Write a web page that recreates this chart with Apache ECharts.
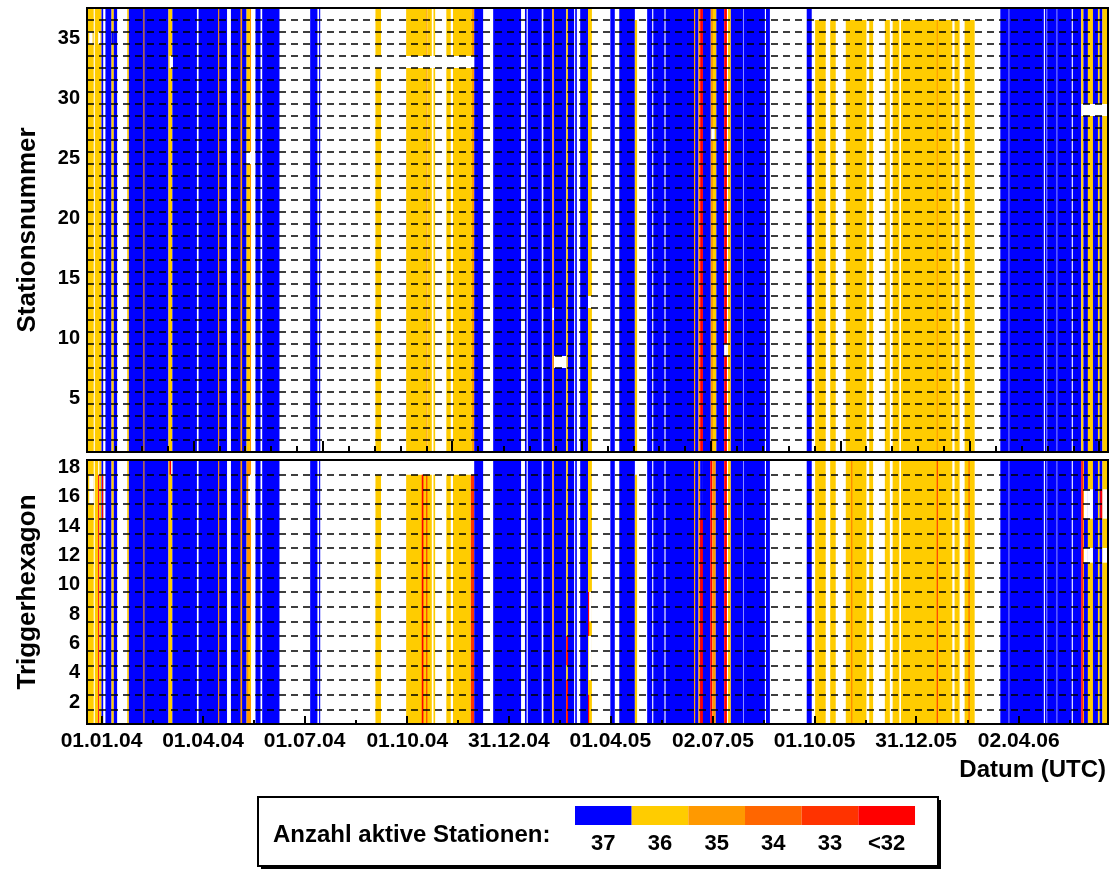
<!DOCTYPE html>
<html>
<head>
<meta charset="utf-8">
<script src="https://cdn.jsdelivr.net/npm/echarts@6/dist/echarts.min.js"></script>
<style>
  html, body { margin: 0; padding: 0; background: #fff; }
  #chart { width: 1110px; height: 870px; }
</style>
</head>
<body>
<div id="chart"></div>
<script>
// Zeitachse: Tage seit 01.01.04
const X_MIN = -13;
const X_MAX = 902;

// Beschriftung der Zeitachse
const dateLabels = ['01.01.04', '01.04.04', '01.07.04', '01.10.04', '31.12.04',
  '01.04.05', '02.07.05', '01.10.05', '31.12.05', '02.04.06'];

const stationTicks = [5, 10, 15, 20, 25, 30, 35];
const hexTicks = [2, 4, 6, 8, 10, 12, 14, 16, 18];

// Legende: Anzahl aktive Stationen
const levels = [37, 36, 35, 34, 33, 32];
const levelNames = ['37', '36', '35', '34', '33', '<32'];
const levelColors = ['#0000ff', '#ffcc00', '#ff9900', '#ff6600', '#ff3300', '#ff0000'];
const noDataColor = '#ffffff';

// [von, bis, Stufe] ganze Spalte, oder [von, bis, Stufe, ersteZeile, letzteZeile]
// Stufe 0 = keine Daten
const stationSpans = [
  [-13, -7, 36], [-6, 0, 36], [0, 1.5, 37], [3.5, 9, 37], [9, 11, 36], [11, 14, 37],
  [23, 24.5, 36], [24.5, 60, 37], [37.5, 38.5, 35],
  [60, 63.5, 36], [63.5, 85.5, 37],
  [87, 112.5, 37], [104.5, 105.5, 35], [116, 130, 37], [124.5, 126, 35],
  [130, 133, 36], [133, 134, 35], [138, 142.5, 37], [144, 159.5, 37],
  [187, 193.5, 37], [195, 196, 37],
  [245.5, 250.5, 36], [273, 291, 36], [291, 292, 35], [292, 296, 36], [297.5, 299, 36],
  [309, 313, 36], [315, 332, 36], [332, 334, 35], [334, 342, 37],
  [351, 376, 37], [379.5, 381, 37], [382, 394.5, 37],
  [396, 404, 37], [404, 405.5, 35], [405.5, 416.5, 37], [416.5, 418, 36], [418, 423.5, 37],
  [424.5, 426, 37], [429, 436, 37], [436, 439.5, 36],
  [456, 460, 37], [464, 478, 37], [478, 480, 36, 1, 36],
  [489, 493.5, 37], [494.5, 504.5, 37], [505.5, 531, 37], [531, 532, 35],
  [532, 535, 37], [535, 536.5, 35], [536.5, 539, 32], [539, 546, 37], [546, 548, 35], [548, 551, 36],
  [551, 558, 37], [558, 560.5, 32], [561.5, 564, 36], [564, 594.5, 37], [575, 575.5, 0],
  [595.5, 599, 37], [632, 636.5, 37],
  [639.5, 649, 36, 1, 36], [653, 658, 36, 1, 36], [667, 685.5, 36, 1, 36], [688, 691.5, 36, 1, 36],
  [702, 706.5, 36, 1, 36], [709, 715, 36, 1, 36], [716.5, 762.5, 36, 1, 36], [748.5, 749.5, 35, 1, 36],
  [764.5, 769, 36, 1, 36], [773.5, 782.5, 36, 1, 36],
  [805.5, 844.5, 37], [813, 813.5, 0], [845.5, 869.5, 37], [847, 847.5, 0], [856, 856.5, 0],
  [870.5, 878, 37], [878, 880, 36], [880, 884, 37], [884, 888.5, 36],
  [888.5, 893, 37], [893, 894.5, 36], [894.5, 897, 37], [897, 902, 36],
  // Lücken
  [-11, -8, 0, 35, 35], [-3, -1, 0, 35, 35], [9, 11, 37, 35, 35],
  [61, 64, 0, 33, 33], [130, 134, 0, 25, 25], [245, 334, 0, 33, 33],
  [404, 405.5, 0, 12, 12], [405.5, 416.5, 0, 8, 8], [436, 439.5, 0, 13, 13],
  [546.5, 549.5, 0, 27, 27], [558, 560.5, 0, 9, 9], [878, 902, 0, 29, 29]
];

const hexSpans = [
  [-13, -7, 36], [-6, -3, 36], [-3, -2, 32, 1, 17], [-2, 0, 36], [0, 1.5, 37], [3.5, 9, 37],
  [9, 11, 36], [11, 14, 37],
  [23, 24.5, 36], [24.5, 60, 37], [37.5, 38.5, 35],
  [60, 63.5, 36], [63.5, 85.5, 37],
  [87, 112.5, 37], [104.5, 105.5, 35], [116, 130, 37], [124.5, 126, 35],
  [130, 134, 35], [138, 142.5, 37], [144, 159.5, 37], [187, 193.5, 37], [195, 196, 37],
  [245.5, 250.5, 36, 1, 17], [273, 296, 36, 1, 17], [287, 288.5, 32, 1, 17], [291, 292, 33, 1, 17],
  [297.5, 299, 36, 1, 17], [309, 313, 36, 1, 17], [315, 331, 36, 1, 17], [331, 334, 33, 1, 17],
  [334, 342, 37], [351, 376, 37],
  [379.5, 381, 37], [382, 394.5, 37], [396, 404, 37], [404, 405.5, 35],
  [405.5, 416.5, 37], [416.5, 418, 36], [418, 423.5, 37], [424.5, 426, 37], [429, 436, 37], [436, 439.5, 36],
  [456, 460, 37], [464, 478, 37], [478, 480, 36, 1, 17],
  [489, 493.5, 37], [494.5, 504.5, 37], [505.5, 531, 37], [531, 532, 35], [532, 535, 37], [535, 536.5, 35],
  [536.5, 539, 37], [536.5, 539, 32, 1, 14], [539, 545.5, 37], [545.5, 547.5, 32], [547.5, 550.5, 35],
  [550.5, 558, 37], [558, 560.5, 32], [561.5, 564, 36], [564, 594.5, 37], [575, 575.5, 0],
  [595.5, 599, 37], [632, 636.5, 37],
  [639.5, 649, 36], [653, 658, 36], [667, 685.5, 36], [672, 672.8, 34], [688, 691.5, 36],
  [702, 706.5, 36], [709, 715, 36], [716.5, 762.5, 36], [748.5, 749.5, 33], [764.5, 769, 36],
  [773.5, 782.5, 36], [777, 778, 34],
  [805.5, 844.5, 37], [813, 813.5, 0], [845.5, 869.5, 37], [847, 847.5, 0], [856, 856.5, 0],
  [870.5, 878, 37], [878, 879.5, 32], [879.5, 880.5, 35], [880.5, 884, 37],
  [884, 888.5, 36], [888.5, 893, 37], [893, 894.5, 36], [894.5, 897, 37], [897, 902, 36],
  // Lücken und Einzelzellen
  [-11, -7, 0, 16, 17], [0.5, 1.5, 32, 15, 17], [61, 62.5, 32, 18, 18], [62.5, 63.5, 0, 18, 18],
  [131.5, 134, 0, 15, 17], [131.5, 134, 36, 3, 7], [416.5, 418, 32, 5, 6], [416.5, 418, 32, 1, 3],
  [436.5, 439.5, 0, 8, 9], [436.5, 439.5, 0, 4, 6], [436, 437, 32, 7, 9], [436, 437, 32, 1, 2],
  [880.5, 884, 0, 15, 16], [884, 888.5, 0, 15, 16], [895, 897, 32, 15, 16], [897, 902, 0, 15, 16],
  [880.5, 884, 0, 12, 12], [884, 888.5, 0, 12, 12], [897, 902, 0, 12, 12]
];

const FONT = '"Liberation Sans", Arial, sans-serif';

function dayOf(label) {
  const p = label.split('.').map(Number);
  return (Date.UTC(2000 + p[2], p[1] - 1, p[0]) - Date.UTC(2004, 0, 1)) / 86400000;
}
const dateDays = dateLabels.map(dayOf);

// Zwischenstriche unten: Mitte zwischen den Hauptstrichen
const hexMinor = [];
for (let i = 0; i < dateDays.length; i++) {
  const next = i + 1 < dateDays.length ? dateDays[i + 1] : dateDays[i] + 91;
  hexMinor.push((dateDays[i] + next) / 2);
}
// Striche oben (eigene Teilung des oberen Pads)
const topMajor = [], topMinor = [];
for (let t = 82.4; t < X_MAX; t += 115.95) topMajor.push(t);
for (let t = 82.4 - 3 * 23.19; t < X_MAX; t += 23.19) if (t > X_MIN) topMinor.push(t);

function colorOf(level) {
  const i = levels.indexOf(level);
  return i < 0 ? noDataColor : levelColors[i];
}

function expand(spans, rows) {
  return spans.map(s => s.length === 3 ? [s[0], s[1], s[2], 1, rows] : s);
}

function renderSpan(params, api) {
  const a = api.coord([api.value(0), api.value(4) + 0.5]);
  const b = api.coord([api.value(1), api.value(3) - 0.5]);
  const cs = params.coordSys;
  const shape = echarts.graphic.clipRectByRect(
    { x: a[0], y: a[1], width: b[0] - a[0], height: b[1] - a[1] },
    { x: cs.x, y: cs.y, width: cs.width, height: cs.height });
  if (!shape) return;
  return { type: 'rect', shape: shape, style: { fill: colorOf(api.value(2)) } };
}

function timeAxis(grid, ticks, len, labels) {
  return {
    gridIndex: grid, type: 'value', min: X_MIN, max: X_MAX, position: 'bottom', z: 5,
    axisLine: { show: false },
    splitLine: { show: false },
    axisTick: { show: true, inside: true, length: len, customValues: ticks,
      lineStyle: { color: '#000', width: 2 } },
    axisLabel: labels ? {
      customValues: dateDays,
      formatter: v => dateLabels[dateDays.indexOf(v)] || '',
      color: '#000', fontSize: 21, fontWeight: 'bold', fontFamily: FONT, margin: 7
    } : { show: false }
  };
}

function rowAxis(grid, max, ticks, name) {
  return {
    gridIndex: grid, type: 'value', min: 0.5, max: max, interval: 1, z: 5,
    axisLine: { show: false },
    axisTick: { show: false },
    axisLabel: { customValues: ticks, color: '#000', fontSize: 20, fontWeight: 'bold',
      fontFamily: FONT, margin: 7 },
    splitLine: { show: true, lineStyle: { color: '#000', type: [7, 5], width: 1.5 } },
    name: name, nameLocation: 'middle', nameGap: 46, nameRotate: 90, nameMoveOverlap: false,
    nameTextStyle: { color: '#000', fontSize: 26, fontWeight: 'bold', fontFamily: FONT }
  };
}

const bottomLabelAxis = timeAxis(1, dateDays, 8, true);
bottomLabelAxis.name = 'Datum (UTC)';
bottomLabelAxis.nameLocation = 'end';
bottomLabelAxis.nameGap = -2;
bottomLabelAxis.nameMoveOverlap = false;
bottomLabelAxis.nameTextStyle = { color: '#000', fontSize: 24, fontWeight: 'bold', fontFamily: FONT,
  align: 'right', verticalAlign: 'top', padding: [34, 0, 0, 0] };

// Legende als Grafik
const SW_X = 575, SW_W = 56.67;
const legendGraphics = [
  { type: 'rect', shape: { x: 261, y: 800, width: 680, height: 69 }, style: { fill: '#000' } },
  { type: 'rect', shape: { x: 258, y: 797, width: 680, height: 69 },
    style: { fill: '#fff', stroke: '#000', lineWidth: 2 } },
  { type: 'text', x: 273, y: 835,
    style: { text: 'Anzahl aktive Stationen:', fill: '#000', font: 'bold 24px ' + FONT,
      align: 'left', verticalAlign: 'middle', textAlign: 'left', textVerticalAlign: 'middle' } }
];
levels.forEach((lv, i) => {
  legendGraphics.push({ type: 'rect', shape: { x: SW_X + i * SW_W, y: 806, width: SW_W, height: 19 },
    style: { fill: levelColors[i] } });
  legendGraphics.push({ type: 'text', x: SW_X + (i + 0.5) * SW_W, y: 844,
    style: { text: levelNames[i], fill: '#000', font: 'bold 22px ' + FONT,
      align: 'center', verticalAlign: 'middle', textAlign: 'center', textVerticalAlign: 'middle' } });
});

const chart = echarts.init(document.getElementById('chart'));
chart.setOption({
  animation: false,
  backgroundColor: '#fff',
  grid: [
    { left: 87, top: 8, width: 1021, height: 444, show: true, z: 10, outerBoundsMode: 'none',
      backgroundColor: 'transparent', borderColor: '#000', borderWidth: 2 },
    { left: 87, top: 460, width: 1021, height: 264, show: true, z: 10, outerBoundsMode: 'none',
      backgroundColor: 'transparent', borderColor: '#000', borderWidth: 2 }
  ],
  xAxis: [
    timeAxis(0, topMajor, 11, false),
    timeAxis(0, topMinor, 6, false),
    bottomLabelAxis,
    timeAxis(1, hexMinor, 4, false)
  ],
  yAxis: [
    rowAxis(0, 37.5, stationTicks, 'Stationsnummer'),
    rowAxis(1, 18.5, hexTicks, 'Triggerhexagon')
  ],
  series: [
    { type: 'custom', xAxisIndex: 0, yAxisIndex: 0, renderItem: renderSpan, silent: true,
      encode: { x: [0, 1], y: [3, 4] }, data: expand(stationSpans, 37) },
    { type: 'custom', xAxisIndex: 2, yAxisIndex: 1, renderItem: renderSpan, silent: true,
      encode: { x: [0, 1], y: [3, 4] }, data: expand(hexSpans, 18) }
  ],
  graphic: legendGraphics
});
</script>
</body>
</html>
